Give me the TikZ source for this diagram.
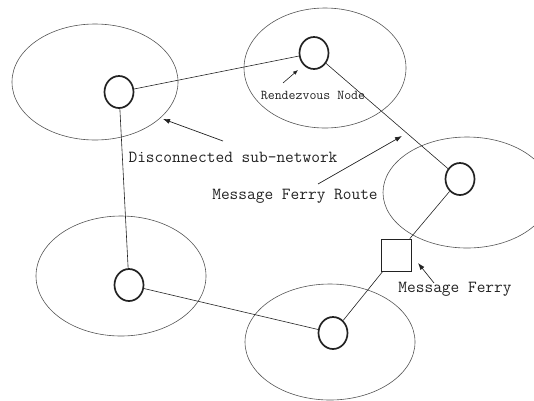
\documentclass[tikz,border=0pt]{standalone}
\usetikzlibrary{shapes.geometric,arrows.meta}
\definecolor{ink}{HTML}{222222}
\definecolor{rim}{HTML}{555555}
\tikzset{
  area/.style={draw=rim,line width=0.6pt},
  host/.style={ellipse,draw=ink,line width=1.7pt,minimum width=29pt,minimum height=32pt,inner sep=0pt},
  ferrybox/.style={rectangle,draw=ink,line width=0.8pt,minimum width=30pt,minimum height=32pt,inner sep=0pt},
  route/.style={draw=ink,line width=0.6pt},
  lbl/.style={text=ink,font=\ttfamily\fontsize{16.9}{18}\selectfont,inner sep=0pt},
  smalllbl/.style={text=ink,font=\ttfamily\fontsize{13.5}{15}\selectfont,inner sep=0pt},
  pointer/.style={draw=ink,line width=0.7pt,-{Latex[length=7pt,width=5pt]}},
  smallpointer/.style={draw=ink,line width=0.6pt,-{Latex[length=5pt,width=4pt]}}
}
\begin{document}
\begin{tikzpicture}[x=1pt,y=-1pt]
\useasboundingbox (0,0) rectangle (534,400);
\clip (0,0) rectangle (534,400);
% sub-network areas
\draw[area] (95,82) ellipse [x radius=83,y radius=58];
\draw[area] (325,68) ellipse [x radius=81,y radius=60];
\draw[area] (467,192.5) ellipse [x radius=84,y radius=55.5];
\draw[area] (121,276) ellipse [x radius=85,y radius=60];
\draw[area] (330,342) ellipse [x radius=85,y radius=58];
% hosts
\node[host] (n1) at (119,92) {};
\node[host] (n2) at (314,53) {};
\node[host] (n3) at (460,179) {};
\node[host] (n4) at (129,285) {};
\node[host] (n5) at (333,333) {};
\node[ferrybox] (fer) at (396,255) {};
% route
\draw[route] (n1) -- (n2);
\draw[route] (n2) -- (n3);
\draw[route] (n3) -- (fer);
\draw[route] (fer) -- (n5);
\draw[route] (n5) -- (n4);
\draw[route] (n4) -- (n1);
% labels
\node[smalllbl] (lr) at (313,95) {Rendezvous Node};
\node[lbl] (ld) at (233,157) {Disconnected sub-network};
\node[lbl] (lm) at (295,196) {Message Ferry Route};
\node[lbl] (lf) at (455,289) {Message Ferry};
\coordinate (tr) at (298,70);
\coordinate (fr) at (283,83);
\coordinate (td) at (163,119);
\coordinate (fd) at (223,141);
\coordinate (tm) at (402,136);
\coordinate (fm) at (318,184);
\coordinate (tf) at (418,263);
\coordinate (ff) at (434,283);
\draw[smallpointer] (fr) -- (tr);
\draw[pointer] (fd) -- (td);
\draw[pointer] (fm) -- (tm);
\draw[pointer] (ff) -- (tf);
\end{tikzpicture}
\end{document}
